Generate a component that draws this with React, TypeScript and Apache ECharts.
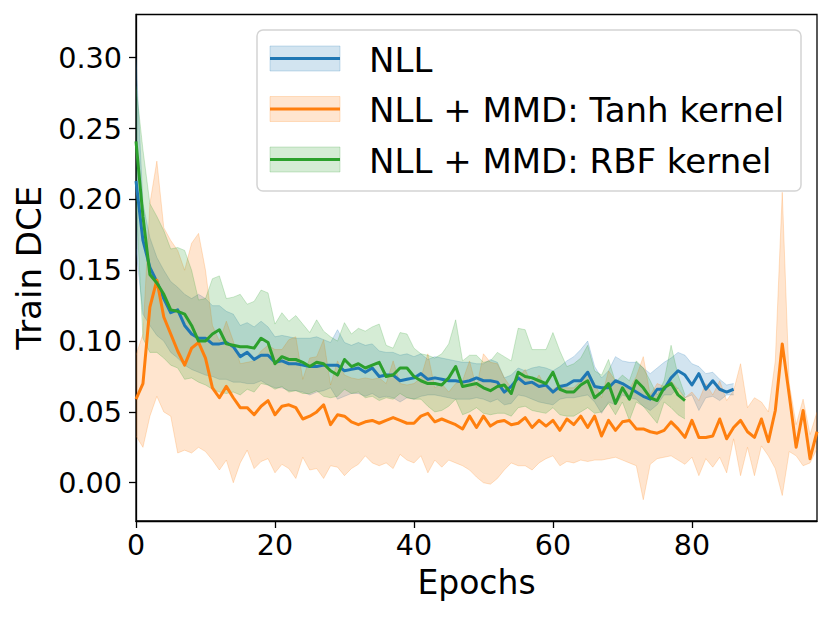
import React, { useEffect, useRef } from "react";
import * as echarts from "echarts";

// ---------- data ----------
const NLL_MEAN = [
  0.213, 0.171, 0.152, 0.142, 0.130, 0.120, 0.122, 0.111, 0.105, 0.102, 0.102, 0.098, 0.098, 0.099, 0.096, 0.089, 0.092,
  0.087, 0.090, 0.090, 0.085, 0.086, 0.084, 0.084, 0.083, 0.082, 0.082, 0.083, 0.083, 0.083, 0.079, 0.080, 0.081, 0.078,
  0.081, 0.075, 0.076, 0.076, 0.072, 0.073, 0.074, 0.077, 0.073,
  0.074, 0.073, 0.072, 0.072, 0.071, 0.072, 0.074, 0.072, 0.072, 0.071, 0.064, 0.068, 0.074, 0.070, 0.071, 0.068, 0.069,
  0.064, 0.068, 0.069, 0.072, 0.072, 0.078, 0.068, 0.067, 0.067, 0.072,
  0.070, 0.067, 0.064, 0.061, 0.059, 0.066, 0.066, 0.074, 0.079, 0.076, 0.069, 0.077, 0.066, 0.072, 0.066, 0.064, 0.066,
];
const NLL_UPPER = [
  0.300, 0.197, 0.173, 0.159, 0.150, 0.142, 0.138, 0.133, 0.130, 0.133, 0.130, 0.125, 0.125, 0.121, 0.119, 0.111, 0.113,
  0.110, 0.114, 0.110, 0.103, 0.104, 0.103, 0.102, 0.102, 0.102, 0.103, 0.101, 0.099, 0.108, 0.099, 0.097, 0.099, 0.097,
  0.098, 0.093, 0.092, 0.092, 0.090, 0.091, 0.089, 0.091, 0.087,
  0.089, 0.088, 0.087, 0.086, 0.085, 0.085, 0.084, 0.084, 0.087, 0.085, 0.074, 0.076, 0.081, 0.079, 0.081, 0.082, 0.081,
  0.079, 0.082, 0.086, 0.089, 0.094, 0.100, 0.082, 0.074, 0.079, 0.089,
  0.086, 0.085, 0.085, 0.081, 0.077, 0.081, 0.085, 0.088, 0.092, 0.090, 0.084, 0.082, 0.077, 0.078, 0.073, 0.069, 0.070,
];
const NLL_LOWER = [
  0.165, 0.119, 0.111, 0.104, 0.100, 0.092, 0.088, 0.083, 0.080, 0.078, 0.076, 0.075, 0.073, 0.073, 0.071, 0.071, 0.070,
  0.070, 0.072, 0.069, 0.067, 0.067, 0.065, 0.065, 0.064, 0.062, 0.064, 0.065, 0.067, 0.059, 0.061, 0.063, 0.063, 0.061,
  0.063, 0.060, 0.061, 0.060, 0.057, 0.060, 0.059, 0.061, 0.062,
  0.062, 0.061, 0.060, 0.059, 0.059, 0.059, 0.060, 0.059, 0.057, 0.059, 0.055, 0.056, 0.062, 0.061, 0.059, 0.057, 0.056,
  0.055, 0.059, 0.060, 0.060, 0.061, 0.062, 0.057, 0.049, 0.057, 0.055,
  0.062, 0.060, 0.059, 0.054, 0.051, 0.055, 0.062, 0.062, 0.067, 0.060, 0.062, 0.051, 0.060, 0.061, 0.058, 0.062, 0.062,
];

const TANH_MEAN = [
  0.059, 0.070, 0.124, 0.143, 0.117, 0.105, 0.093, 0.083, 0.095, 0.099, 0.088, 0.067, 0.060, 0.068, 0.060, 0.053, 0.053,
  0.048, 0.054, 0.058, 0.048, 0.054, 0.055, 0.053, 0.045, 0.047, 0.050, 0.055, 0.041, 0.048, 0.047, 0.043, 0.041, 0.043,
  0.044, 0.042, 0.044, 0.046, 0.044, 0.042, 0.042, 0.047, 0.049,
  0.043, 0.045, 0.043, 0.041, 0.038, 0.047, 0.039, 0.047, 0.040, 0.043, 0.044, 0.041, 0.042, 0.046, 0.039, 0.044, 0.040,
  0.044, 0.037, 0.045, 0.041, 0.047, 0.039, 0.047, 0.033, 0.044, 0.037,
  0.043, 0.044, 0.038, 0.038, 0.036, 0.035, 0.037, 0.043, 0.038, 0.032, 0.044, 0.032, 0.032, 0.033, 0.045, 0.031, 0.039,
  0.044, 0.036, 0.032, 0.045, 0.029, 0.051, 0.098, 0.062, 0.025, 0.051, 0.017, 0.036,
];
const TANH_UPPER = [
  0.090, 0.105, 0.197, 0.227, 0.180, 0.171, 0.164, 0.150, 0.169, 0.176, 0.150, 0.111, 0.100, 0.114, 0.100, 0.084, 0.085,
  0.086, 0.093, 0.097, 0.094, 0.094, 0.101, 0.103, 0.073, 0.088, 0.089, 0.101, 0.069, 0.086, 0.076, 0.074, 0.073, 0.074,
  0.073, 0.074, 0.070, 0.086, 0.070, 0.069, 0.070, 0.074, 0.091,
  0.067, 0.070, 0.064, 0.070, 0.072, 0.086, 0.067, 0.091, 0.085, 0.084, 0.074, 0.067, 0.074, 0.080, 0.069, 0.076, 0.067,
  0.066, 0.069, 0.067, 0.067, 0.072, 0.079, 0.070, 0.060, 0.079, 0.072,
  0.068, 0.066, 0.075, 0.089, 0.062, 0.070, 0.068, 0.072, 0.066, 0.060, 0.064, 0.058, 0.070, 0.062, 0.072, 0.058, 0.065,
  0.084, 0.053, 0.060, 0.057, 0.050, 0.086, 0.205, 0.070, 0.041, 0.059, 0.034, 0.050,
];
const TANH_LOWER = [
  0.033, 0.025, 0.047, 0.061, 0.050, 0.047, 0.021, 0.023, 0.021, 0.025, 0.022, 0.016, 0.009, 0.016, 0.000, 0.014, 0.023,
  0.010, 0.015, 0.017, 0.007, 0.013, 0.010, 0.003, 0.018, 0.009, 0.010, 0.003, 0.012, 0.011, 0.005, 0.010, 0.013, 0.019,
  0.014, 0.012, 0.014, 0.010, 0.020, 0.016, 0.014, 0.019, 0.007,
  0.016, 0.011, 0.016, 0.014, 0.012, 0.009, 0.004, 0.000, -0.001, 0.003, 0.009, 0.014, 0.012, 0.012, 0.009, 0.014, 0.017,
  0.019, 0.012, 0.015, 0.014, 0.016, 0.015, 0.016, 0.016, 0.017, 0.018,
  0.016, 0.014, 0.012, -0.012, 0.013, 0.017, 0.018, 0.019, 0.016, 0.013, 0.018, 0.005, 0.017, 0.011, 0.018, 0.007, 0.031,
  0.005, 0.025, 0.005, 0.026, 0.019, 0.010, -0.009, 0.022, 0.019, 0.012, 0.014, 0.024,
];

const RBF_MEAN = [
  0.241, 0.188, 0.147, 0.141, 0.133, 0.122, 0.121, 0.119, 0.111, 0.100, 0.100, 0.105, 0.108, 0.098, 0.097, 0.096, 0.096,
  0.095, 0.102, 0.099, 0.084, 0.089, 0.087, 0.087, 0.085, 0.082, 0.085, 0.084, 0.079, 0.076, 0.087, 0.082, 0.084, 0.081,
  0.083, 0.085, 0.075, 0.076, 0.081, 0.081, 0.075, 0.072, 0.070,
  0.070, 0.069, 0.074, 0.082, 0.068, 0.069, 0.070, 0.067, 0.065, 0.068, 0.069, 0.063, 0.078, 0.075, 0.074, 0.072, 0.070,
  0.078, 0.066, 0.064, 0.064, 0.069, 0.072, 0.060, 0.064, 0.070, 0.056,
  0.067, 0.059, 0.072, 0.067, 0.060, 0.058, 0.067, 0.070, 0.062, 0.058,
];
const RBF_UPPER = [
  0.280, 0.235, 0.197, 0.188, 0.178, 0.165, 0.166, 0.164, 0.150, 0.129, 0.130, 0.144, 0.146, 0.130, 0.131, 0.133, 0.126,
  0.128, 0.136, 0.134, 0.112, 0.120, 0.114, 0.118, 0.112, 0.106, 0.115, 0.107, 0.103, 0.100, 0.113, 0.105, 0.109, 0.107,
  0.110, 0.112, 0.097, 0.095, 0.106, 0.105, 0.095, 0.091, 0.090,
  0.088, 0.091, 0.098, 0.115, 0.086, 0.090, 0.090, 0.085, 0.086, 0.092, 0.089, 0.086, 0.109, 0.108, 0.094, 0.094, 0.094,
  0.106, 0.093, 0.082, 0.084, 0.088, 0.097, 0.079, 0.076, 0.087, 0.071,
  0.076, 0.072, 0.086, 0.081, 0.072, 0.062, 0.072, 0.097, 0.076, 0.062,
];
const RBF_LOWER = [
  0.200, 0.102, 0.092, 0.092, 0.088, 0.083, 0.081, 0.073, 0.074, 0.071, 0.069, 0.066, 0.064, 0.063, 0.064, 0.062, 0.066,
  0.064, 0.070, 0.069, 0.066, 0.068, 0.064, 0.065, 0.063, 0.063, 0.065, 0.061, 0.060, 0.061, 0.066, 0.063, 0.064, 0.060,
  0.061, 0.058, 0.060, 0.059, 0.063, 0.060, 0.059, 0.059, 0.054,
  0.050, 0.051, 0.054, 0.059, 0.048, 0.050, 0.053, 0.049, 0.048, 0.049, 0.049, 0.047, 0.053, 0.054, 0.051, 0.050, 0.049,
  0.053, 0.048, 0.047, 0.047, 0.050, 0.053, 0.049, 0.050, 0.056, 0.048,
  0.057, 0.044, 0.057, 0.054, 0.048, 0.042, 0.057, 0.053, 0.048, 0.045,
];

const SERIES_NAMES = ["NLL", "NLL + MMD: Tanh kernel", "NLL + MMD: RBF kernel"];
const SERIES_COLORS = ["#1f77b4", "#ff7f0e", "#2ca02c"];
const EPOCH_TICKS = [0, 20, 40, 60, 80];
const DCE_TICKS = [0, 0.05, 0.1, 0.15, 0.2, 0.25, 0.3];
const X_LABEL = "Epochs";
const Y_LABEL = "Train DCE";

// ---------- helpers ----------
const FONT = "DejaVu Sans";

function rgba(hex: string, a: number): string {
  const r = parseInt(hex.slice(1, 3), 16);
  const g = parseInt(hex.slice(3, 5), 16);
  const b = parseInt(hex.slice(5, 7), 16);
  return `rgba(${r},${g},${b},${a})`;
}

function pairs(values: number[]): [number, number][] {
  return values.map((v, i) => [i, v]);
}

// band (fill_between) as one polygon per series, positioned through api.coord
function bandSeries(name: string, color: string, lower: number[], upper: number[]) {
  const data = lower.map((lo, i) => [i, lo, upper[i]]);
  return {
    type: "custom",
    name: name + " band",
    silent: true,
    clip: true,
    data,
    encode: { x: 0, y: [1, 2] },
    renderItem: (params: any, api: any) => {
      if (params.dataIndex !== 0) return null;
      const up = upper.map((u, i) => api.coord([i, u]));
      const lo = lower.map((l, i) => api.coord([i, l]));
      const poly = up.concat(lo.slice().reverse());
      const edge = rgba(color, 0.22);
      return {
        type: "group",
        children: [
          { type: "polygon", shape: { points: poly }, style: { fill: rgba(color, 0.2), stroke: "none" } },
          { type: "polyline", shape: { points: up }, style: { fill: "none", stroke: edge, lineWidth: 1 } },
          { type: "polyline", shape: { points: lo }, style: { fill: "none", stroke: edge, lineWidth: 1 } },
        ],
      };
    },
  };
}

function meanSeries(name: string, color: string, mean: number[]) {
  return {
    type: "line",
    name,
    data: pairs(mean),
    symbol: "none",
    lineStyle: { color, width: 3, join: "round" },
  };
}

// legend drawn as graphic (patch + line + label, matplotlib style)
function legendGraphic() {
  const left = 257;
  const top = 30;
  const rowTop = 58.5;
  const rowStep = 50.5;
  const children: any[] = [
    {
      type: "rect",
      shape: { x: left, y: top, width: 544, height: 161, r: 6 },
      style: { fill: "rgba(255,255,255,0.85)", stroke: "#d4d4d4", lineWidth: 1.5 },
    },
  ];
  SERIES_NAMES.forEach((name, i) => {
    const cy = rowTop + i * rowStep;
    const c = SERIES_COLORS[i];
    children.push({
      type: "rect",
      shape: { x: 270, y: cy - 12.5, width: 70, height: 25 },
      style: { fill: rgba(c, 0.2), stroke: rgba(c, 0.22), lineWidth: 1 },
    });
    children.push({
      type: "line",
      shape: { x1: 270, y1: cy, x2: 340, y2: cy },
      style: { stroke: c, lineWidth: 3 },
    });
    children.push({
      type: "text",
      x: 369,
      y: cy + 1,
      style: {
        text: name,
        fill: "#000",
        font: `34px '${FONT}'`,
        verticalAlign: "middle",
        align: "left",
      },
    });
  });
  return { type: "group", z: 100, children };
}

export default function App() {
  const ref = useRef<HTMLDivElement>(null);

  useEffect(() => {
    if (!ref.current) return;
    const chart = echarts.init(ref.current, null, { renderer: "svg" });
    const series: any[] = [
      bandSeries(SERIES_NAMES[0], SERIES_COLORS[0], NLL_LOWER, NLL_UPPER),
      meanSeries(SERIES_NAMES[0], SERIES_COLORS[0], NLL_MEAN),
      bandSeries(SERIES_NAMES[1], SERIES_COLORS[1], TANH_LOWER, TANH_UPPER),
      meanSeries(SERIES_NAMES[1], SERIES_COLORS[1], TANH_MEAN),
      bandSeries(SERIES_NAMES[2], SERIES_COLORS[2], RBF_LOWER, RBF_UPPER),
      meanSeries(SERIES_NAMES[2], SERIES_COLORS[2], RBF_MEAN),
    ];
    chart.setOption({
      animation: false,
      backgroundColor: "#ffffff",
      textStyle: { fontFamily: FONT },
      grid: {
        left: 136,
        top: 14.5,
        right: 13,
        bottom: 97,
        show: true,
        borderColor: "#000",
        borderWidth: 1.3,
        backgroundColor: "transparent",
      },
      xAxis: {
        type: "value",
        min: 0,
        max: 98,
        name: X_LABEL,
        nameLocation: "middle",
        nameGap: 45,
        nameTextStyle: { fontSize: 33, color: "#000", fontFamily: FONT },
        axisLine: { show: true, onZero: false, lineStyle: { color: "#000", width: 1.3 } },
        axisTick: { show: true, length: 7, lineStyle: { color: "#000", width: 1.3 }, customValues: EPOCH_TICKS },
        axisLabel: {
          show: true,
          fontSize: 28.5,
          color: "#000",
          fontFamily: FONT,
          margin: 10,
          customValues: EPOCH_TICKS,
          formatter: (v: number) => String(v),
        },
        splitLine: { show: false },
      },
      yAxis: {
        type: "value",
        min: -0.027,
        max: 0.3305,
        name: Y_LABEL,
        nameLocation: "middle",
        nameGap: 90,
        nameRotate: 90,
        nameTextStyle: { fontSize: 34, color: "#000", fontFamily: FONT },
        axisLine: { show: true, onZero: false, lineStyle: { color: "#000", width: 1.3 } },
        axisTick: { show: true, length: 7, lineStyle: { color: "#000", width: 1.3 }, customValues: DCE_TICKS },
        axisLabel: {
          show: true,
          fontSize: 28.7,
          color: "#000",
          fontFamily: FONT,
          margin: 14,
          padding: [6, 0, 0, 0],
          customValues: DCE_TICKS,
          formatter: (v: number) => v.toFixed(2),
        },
        splitLine: { show: false },
      },
      graphic: [legendGraphic()],
      series,
    });
    return () => chart.dispose();
  }, []);

  return (
    <div
      ref={ref}
      style={{ position: "absolute", left: 0, top: 0, width: 830, height: 618, background: "#fff" }}
    />
  );
}
